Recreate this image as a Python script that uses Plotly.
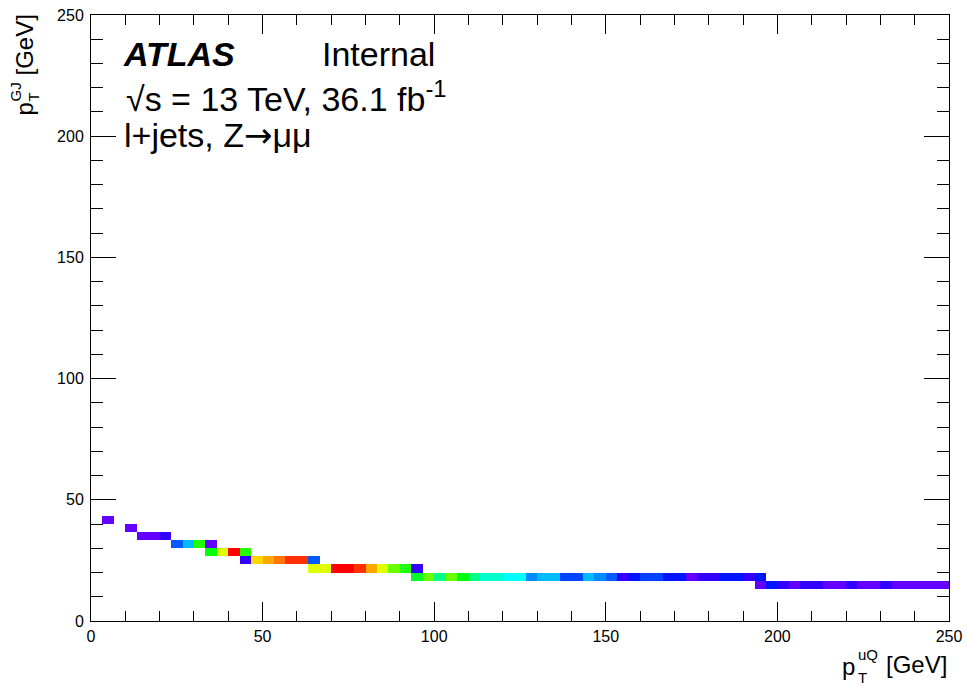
import colorsys
import plotly.graph_objects as go

# ---------------- data ----------------
n_bins = 75
axis_min, axis_max = 0.0, 250.0

# filled cells: x bin index, y bin index, bin content
cell_xbin = [1, 3, 4, 5, 6, 7, 8, 9, 10, 10, 11, 12, 13, 13, 14, 15, 16, 17, 18, 19,
             19, 20, 21, 22, 23, 24, 25, 26, 27, 28, 28, 29, 30, 31, 32, 33, 34, 35, 36, 37,
             38, 39, 40, 41, 42, 43, 44, 45, 46, 47, 48, 49, 50, 51, 52, 53, 54, 55, 56, 57,
             58, 58, 59, 60, 61, 62, 63, 64, 65, 66, 67, 68, 69, 70, 71, 72, 73, 74]
cell_ybin = [12, 11, 10, 10, 10, 9, 9, 9, 9, 8, 8, 8, 8, 7, 7, 7, 7, 7, 7, 7,
             6, 6, 6, 6, 6, 6, 6, 6, 6, 6, 5, 5, 5, 5, 5, 5, 5, 5, 5, 5,
             5, 5, 5, 5, 5, 5, 5, 5, 5, 5, 5, 5, 5, 5, 5, 5, 5, 5, 5, 5,
             5, 4, 4, 4, 4, 4, 4, 4, 4, 4, 4, 4, 4, 4, 4, 4, 4, 4]
cell_content = [5, 5, 5, 5, 9, 21, 29, 59, 5, 55, 75, 99, 59, 9, 81, 85, 89, 95, 95, 21,
                75, 75, 99, 99, 95, 85, 75, 65, 59, 9, 53, 65, 45, 65, 55, 45, 39, 39, 35, 35,
                25, 29, 29, 19, 19, 29, 25, 21, 9, 15, 19, 19, 15, 15, 5, 9, 9, 15, 15, 9,
                15, 5, 15, 9, 5, 9, 9, 5, 5, 9, 5, 5, 9, 5, 5, 5, 5, 5]
z_min, z_max = 0, 100

x_ticks = [0, 50, 100, 150, 200, 250]
y_ticks = [0, 50, 100, 150, 200, 250]

# ---------------- build histogram ----------------
bw = (axis_max - axis_min) / n_bins
centers = [axis_min + (k + 0.5) * bw for k in range(n_bins)]
z = [[None] * n_bins for _ in range(n_bins)]
for xb, yb, c in zip(cell_xbin, cell_ybin, cell_content):
    z[yb][xb] = c

# ROOT "pretty" palette (51-100): 50 hues from violet to red
ncol = 50
scale = []
for k in range(ncol):
    hue = 280 - (k + 1) * (280.0 / ncol)
    r, g, b = colorsys.hls_to_rgb(hue / 360.0, 0.5, 1.0)
    col = "rgb(%d,%d,%d)" % (round(r * 255), round(g * 255), round(b * 255))
    scale.append([k / ncol, col])
    scale.append([(k + 1) / ncol, col])

FONT = "Liberation Sans, Arial, Helvetica, sans-serif"

fig = go.Figure(go.Heatmap(
    x=centers, y=centers, z=z, colorscale=scale, zmin=z_min, zmax=z_max,
    showscale=False, hoverongaps=False, zsmooth=False))

L, R, T, B = 91, 18, 15, 65
W, H = 967, 686
pw, ph = W - L - R, H - T - B


def px(xp):
    return (xp - L) / pw


def py(yp):
    return (H - B - yp) / ph


axis_common = dict(
    range=[axis_min, axis_max], tickvals=x_ticks, ticks="inside", tickwidth=1,
    tickcolor="black", showline=True, linecolor="black", linewidth=1,
    mirror="allticks", showgrid=False, zeroline=False, automargin=False,
    tickfont=dict(family=FONT, size=16, color="black"),
)
fig.update_layout(
    width=W, height=H, margin=dict(l=L, r=R, t=T, b=B, pad=0, autoexpand=False),
    paper_bgcolor="white", plot_bgcolor="white",
    xaxis=dict(axis_common, ticklen=19, ticklabelstandoff=1,
               minor=dict(dtick=10, ticks="inside", ticklen=10, tickcolor="black", tickwidth=1)),
    yaxis=dict(axis_common, tickvals=y_ticks, ticklen=25, ticklabelstandoff=3,
               minor=dict(dtick=10, ticks="inside", ticklen=12, tickcolor="black", tickwidth=1)),
    showlegend=False,
)

ann = []


def add(text, x, y, size, xanchor="left", yanchor="middle", angle=0, **kw):
    ann.append(dict(text=text, x=px(x), y=py(y), xref="paper", yref="paper",
                    showarrow=False, xanchor=xanchor, yanchor=yanchor, textangle=angle,
                    font=dict(family=FONT, size=size, color="black"), **kw))


# ATLAS label block
add("<b><i>ATLAS</i></b>", 121, 54, 34)
add("Internal", 320, 54, 34)
add("√s = 13 TeV, 36.1 fb<sup>-1</sup>", 124, 97, 34)
add("l+jets, Z<span style=\"font-family:DejaVu Sans\">→</span>μμ", 122, 135, 34)

# x-axis title  p_T^{uQ} [GeV]
add("[GeV]", 949, 664, 24, xanchor="right")
add("p", 857, 666, 24, xanchor="right")
add("uQ", 856, 655, 15)
add("T", 856, 677, 15)

# y-axis title  p_T^{GJ} [GeV]
add("[GeV]", 24, 13, 24, xanchor="center", yanchor="top", angle=-90)
add("p", 24, 118, 24, xanchor="center", yanchor="bottom", angle=-90)
add("GJ", 15, 104, 15, xanchor="center", yanchor="bottom", angle=-90)
add("T", 33, 104, 15, xanchor="center", yanchor="bottom", angle=-90)

fig.update_layout(annotations=ann)
fig.write_html("out.html")
